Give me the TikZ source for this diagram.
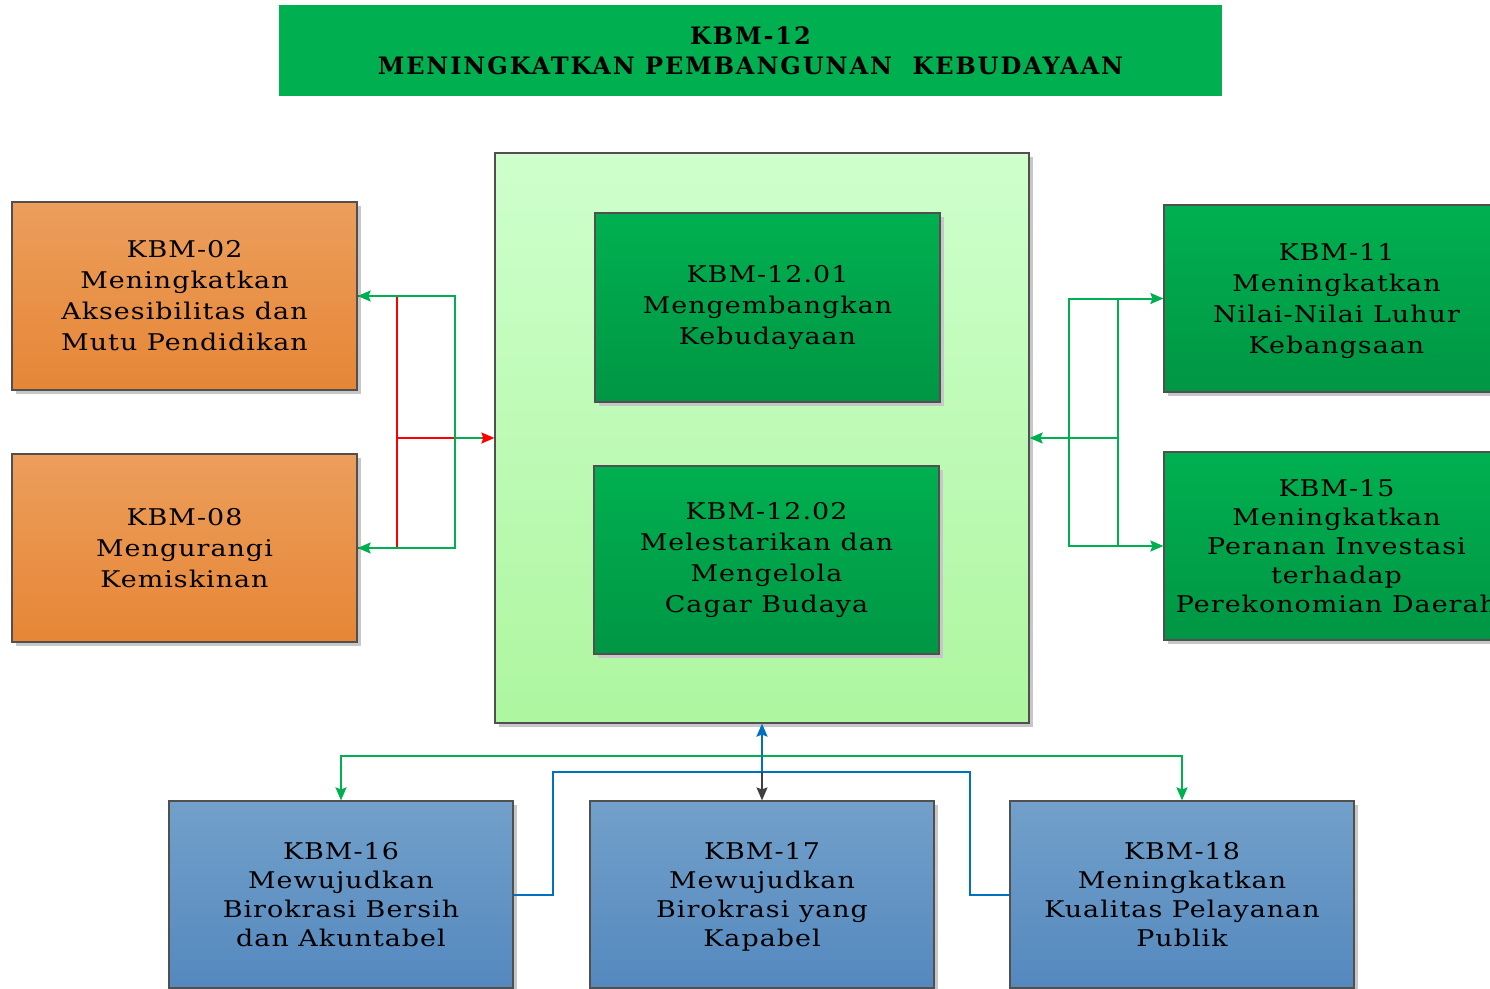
\documentclass[tikz,border=0pt]{standalone}
\usepackage{fontspec}
\setmainfont{DejaVu Serif}[FakeStretch=1.17, LetterSpace=4.5]
\newfontfamily\titlefont{DejaVu Serif}[FakeStretch=1.0, LetterSpace=8]
\usetikzlibrary{arrows.meta,shadows}
\definecolor{kgreen}{RGB}{0,176,80}
\definecolor{kgreendk}{RGB}{0,150,68}
\definecolor{korange}{RGB}{236,158,92}
\definecolor{korangedk}{RGB}{230,134,54}
\definecolor{kblue}{RGB}{114,160,202}
\definecolor{kbluedk}{RGB}{84,136,190}
\definecolor{kpale}{RGB}{206,255,204}
\definecolor{kpaledk}{RGB}{174,246,160}
\definecolor{kborder}{RGB}{80,80,80}
\definecolor{kline}{RGB}{0,176,80}
\definecolor{kred}{RGB}{255,0,0}
\definecolor{kblueline}{RGB}{0,112,192}
\definecolor{kgray}{RGB}{64,64,64}
\tikzset{
  box/.style={draw=kborder, line width=1.2pt, align=center, text=black,
    font=\fontsize{23}{31}\selectfont,
    drop shadow={shadow xshift=4pt, shadow yshift=-4pt, fill=black!22, opacity=1}},
  orangebox/.style={box, top color=korange, bottom color=korangedk,
    minimum width=345pt, minimum height=188pt},
  greenbox/.style={box, top color=kgreen, bottom color=kgreendk,
    minimum width=345pt, minimum height=188pt},
  bluebox/.style={box, top color=kblue, bottom color=kbluedk,
    minimum width=344pt, minimum height=187pt, font=\fontsize{23}{29}\selectfont},
  tip/.style={-{Stealth[length=13pt,width=11pt,inset=2pt]}},
  twotip/.style={{Stealth[length=13pt,width=11pt,inset=2pt]}-{Stealth[length=13pt,width=11pt,inset=2pt]}},
  gline/.style={draw=kline, line width=2pt},
  rline/.style={draw=kred, line width=2pt},
  bline/.style={draw=kblueline, line width=2pt},
}
\begin{document}
\begin{tikzpicture}[x=1pt,y=-1pt]
\clip (0,0) rectangle (1490,988);
\fill[white] (0,0) rectangle (1490,988);

% title banner
\node[fill=kgreen, minimum width=943pt, minimum height=91pt, align=center,
  font=\titlefont\bfseries\fontsize{24}{30}\selectfont] (title) at (750.5,50.5)
  {KBM-12\\MENINGKATKAN PEMBANGUNAN~~KEBUDAYAAN};

% central programme block
\node[draw=kborder, line width=1.2pt, top color=kpale, bottom color=kpaledk,
  minimum width=534pt, minimum height=570pt,
  drop shadow={shadow xshift=4pt, shadow yshift=-4pt, fill=black!22, opacity=1}]
  (center) at (762,438) {};
\node[greenbox, minimum height=189pt] (p1) at (767.5,307.5)
  {KBM-12.01\\Mengembangkan\\Kebudayaan};
\node[greenbox] (p2) at (766.5,560)
  {KBM-12.02\\Melestarikan dan\\Mengelola\\Cagar Budaya};

% left side
\node[orangebox] (k02) at (184.5,296)
  {KBM-02\\Meningkatkan\\Aksesibilitas dan\\Mutu Pendidikan};
\node[orangebox] (k08) at (184.5,548)
  {KBM-08\\Mengurangi\\Kemiskinan};

% right side
\node[greenbox, minimum height=187pt, text depth=0pt] (k11) at (1336.5,298.5)
  {KBM-11\\Meningkatkan\\Nilai-Nilai Luhur\\Kebangsaan};
\node[greenbox, font=\fontsize{23}{29}\selectfont] (k15) at (1336.5,546)
  {KBM-15\\Meningkatkan\\Peranan Investasi\\terhadap\\Perekonomian Daerah};

% bottom row
\node[bluebox] (k16) at (341,894.5)
  {KBM-16\\Mewujudkan\\Birokrasi Bersih\\dan Akuntabel};
\node[bluebox, text depth=0pt] (k17) at (762,894.5)
  {KBM-17\\Mewujudkan\\Birokrasi yang\\Kapabel};
\node[bluebox] (k18) at (1182,894.5)
  {KBM-18\\Meningkatkan\\Kualitas Pelayanan\\Publik};

% routing points
\coordinate (lr) at (397,548);
\coordinate (lg) at (455,548);
\coordinate (ro) at (1069,546);
\coordinate (ri) at (1118,546);
\coordinate (gb) at (0,756);
\coordinate (bb) at (0,772);
\coordinate (bl) at (553,772);
\coordinate (br) at (970,772);

% left connectors
\draw[rline] (k02.east) -| (lr) -- (k08.east);
\draw[rline, tip] (lr |- center.west) -- (center.west);
\draw[gline, twotip] (k02.east) -| (lg) -- (k08.east);
\draw[gline] (lg |- center.west) -- ([xshift=-12pt]center.west);

% right connectors
\draw[gline, twotip] (k11.west) -| (ro) -- (k15.west);
\draw[gline] (ri |- k11.west) -- (ri);
\draw[gline, tip] (ri |- center.east) -- (center.east);

% bottom connectors
\draw[gline, twotip] (k16.north) |- (k17.north |- gb) -| (k18.north);
\draw[bline] (k16.east) -| (bl) -- (br) |- (k18.west);
\draw[bline, tip] (k17.north |- bb) -- (center.south);
\draw[draw=kgray, line width=1.6pt, tip] (k17.north |- bb) -- (k17.north);
\end{tikzpicture}
\end{document}
